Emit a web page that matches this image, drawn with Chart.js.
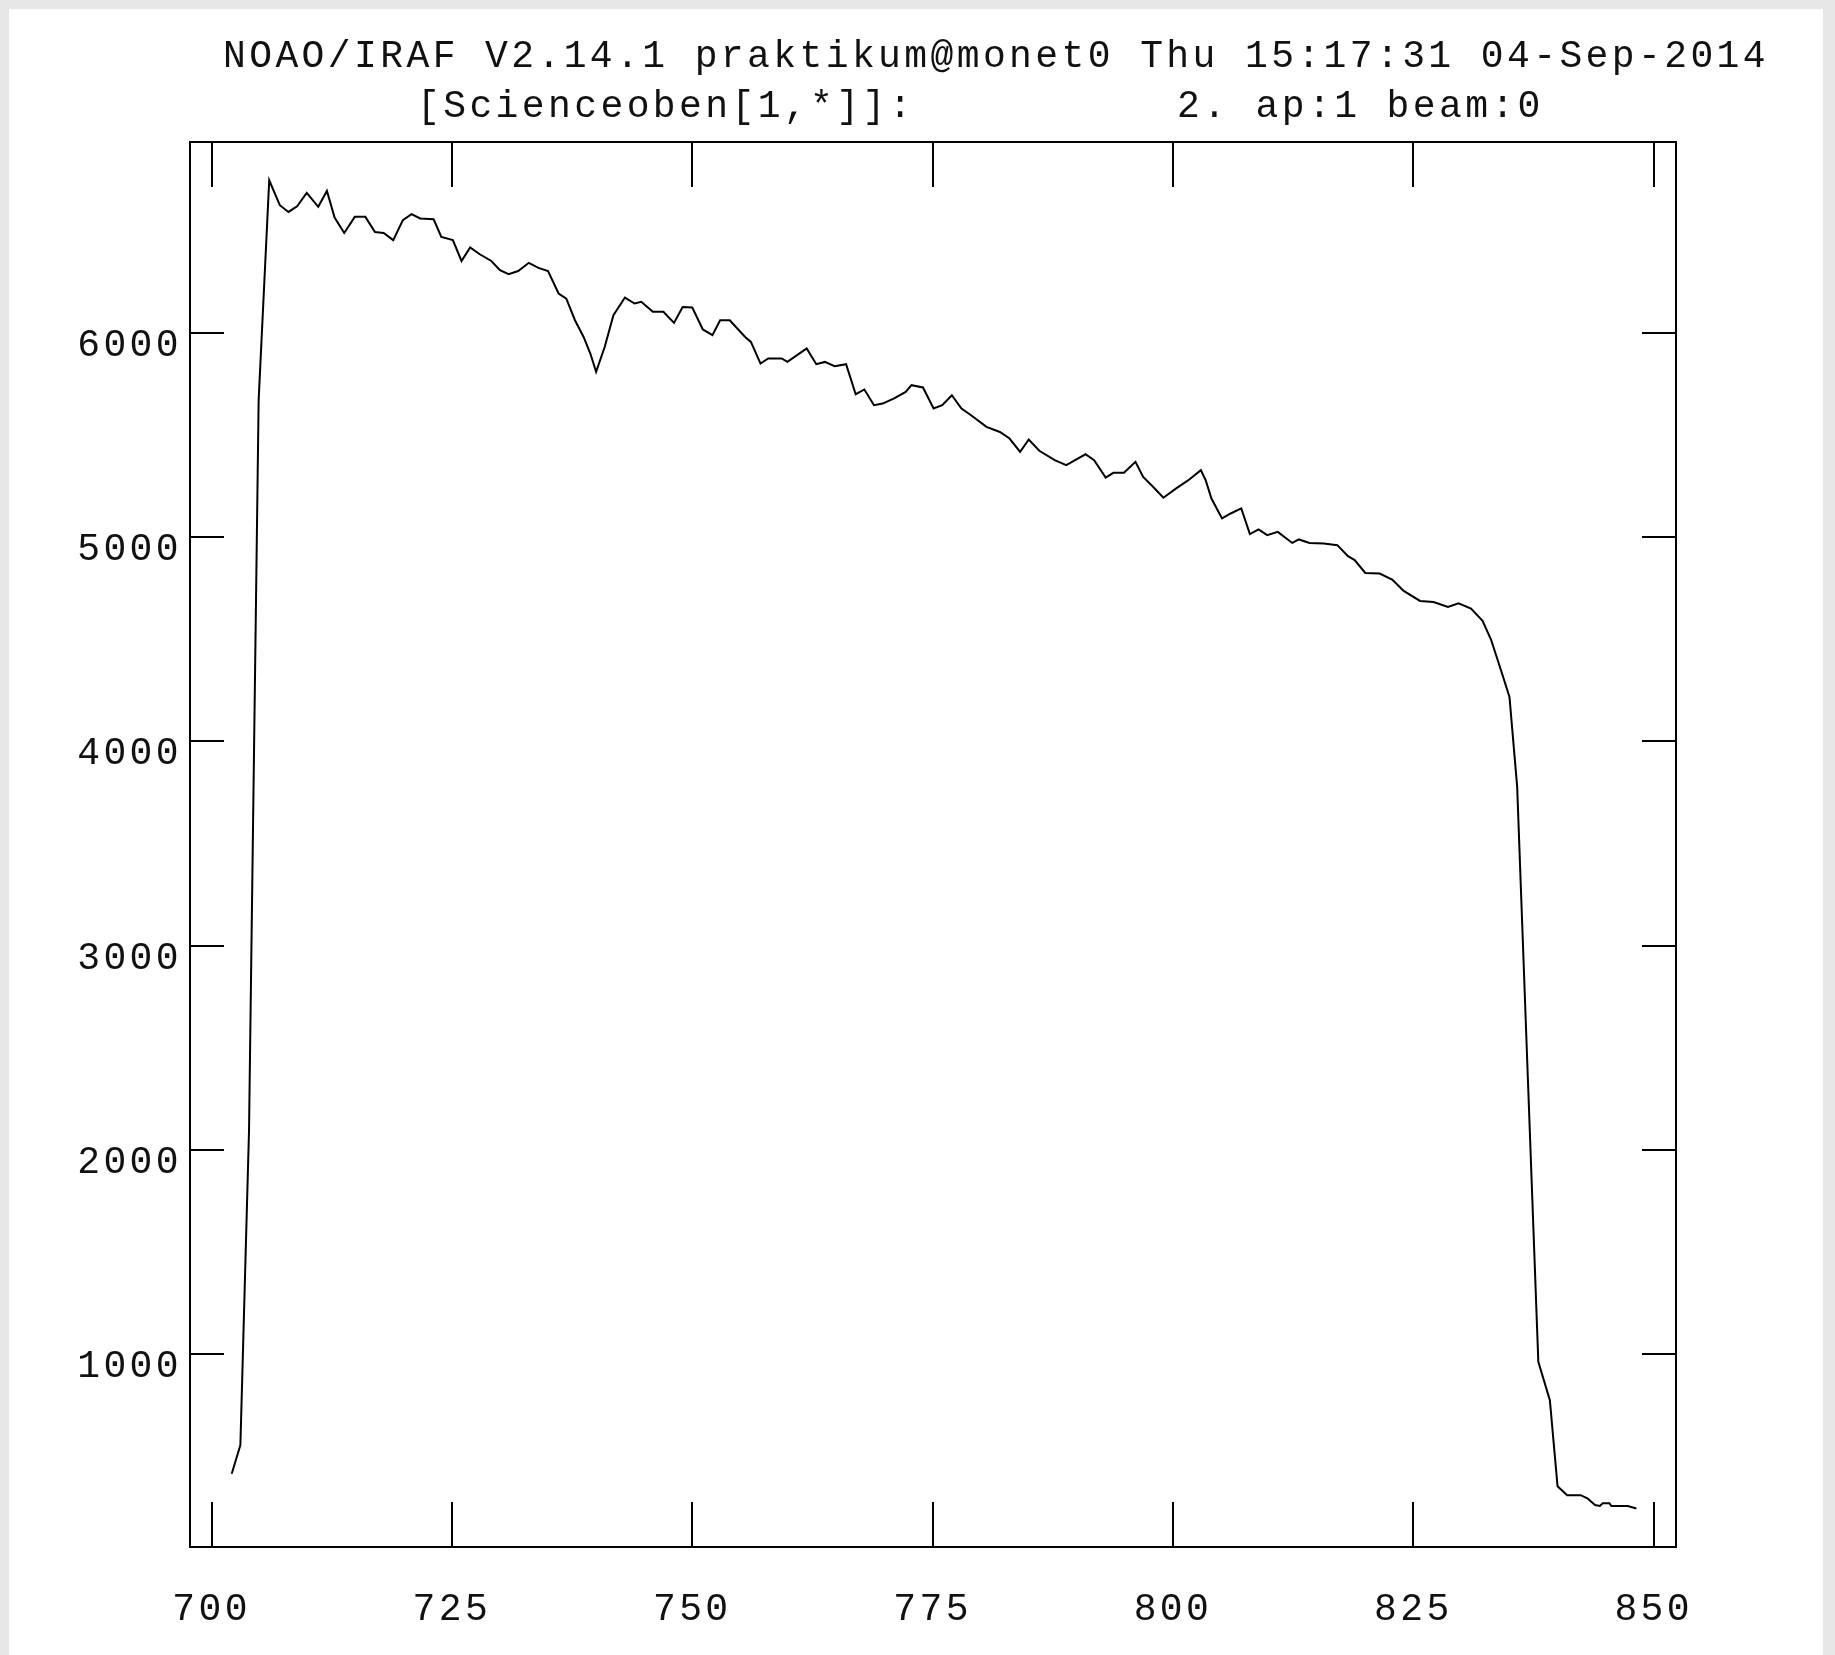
<!DOCTYPE html>
<html><head><meta charset="utf-8">
<script src="https://cdn.jsdelivr.net/npm/chart.js@4"></script>
<style>
html,body{margin:0;padding:0;background:#e6e6e6;}
#paper{position:absolute;left:9px;top:9px;width:1814px;height:1646px;background:#fff;}
#wrap{position:absolute;left:0;top:0;width:1835px;height:1655px;}
canvas{display:block;}
</style></head><body>
<div id="paper"></div>
<div id="wrap"><canvas id="c" width="1835" height="1655"></canvas></div>
<script>
// ---- data ----
const wavelength = [
702.1,703.0,703.9,704.9,706.0,707.1,708.0,708.9,709.9,711.1,712.0,712.8,713.8,714.9,716.0,717.0,717.9,718.9,719.9,720.8,
721.7,723.1,723.9,725.1,726.0,726.9,727.9,729.1,730.0,730.9,731.9,733.0,734.0,735.0,736.1,736.9,737.8,738.7,739.4,740.0,
740.9,741.8,743.0,744.0,744.7,745.9,747.0,748.1,749.0,750.0,751.1,752.1,752.9,753.9,755.5,756.1,757.1,757.9,759.3,759.9,
760.9,761.9,762.9,763.8,764.8,766.0,767.0,767.9,768.9,769.8,771.0,772.2,772.8,774.0,775.1,776.0,777.0,778.0,779.0,780.6,
782.0,783.0,784.1,785.0,786.1,787.7,788.9,790.1,790.9,791.8,793.0,793.8,794.9,796.1,796.9,798.0,799.0,800.3,801.6,802.9,
803.4,804.0,805.1,806.0,807.1,808.0,808.9,809.8,810.9,812.4,813.1,814.2,815.7,817.1,818.2,818.9,820.0,821.5,822.8,824.0,
825.7,827.1,828.6,829.7,831.0,832.2,833.1,834.1,835.0,835.8,836.9,838.0,839.2,840.0,841.0,842.4,843.1,843.9,844.4,844.7,
845.4,845.6,847.3,848.2
];
const flux = [
415,555,2097,5670,6746,6624,6591,6619,6684,6616,6694,6564,6488,6567,6567,6493,6488,6453,6551,6580,
6559,6555,6469,6453,6351,6417,6384,6351,6306,6286,6302,6342,6317,6302,6192,6167,6061,5979,5898,5808,
5931,6086,6172,6143,6151,6102,6102,6048,6126,6123,6016,5988,6061,6061,5979,5955,5849,5874,5874,5857,
5890,5923,5846,5857,5836,5846,5699,5722,5645,5653,5678,5710,5743,5732,5629,5645,5694,5629,5596,5539,
5514,5482,5417,5477,5422,5376,5352,5384,5405,5376,5291,5314,5314,5368,5294,5242,5192,5237,5278,5327,
5278,5188,5091,5115,5140,5014,5037,5009,5025,4971,4988,4971,4968,4960,4906,4887,4824,4821,4792,4736,
4687,4682,4658,4675,4650,4590,4495,4350,4217,3777,2366,963,775,354,310,310,295,262,257,270,
270,257,257,245
];
const xTickValues = [700, 725, 750, 775, 800, 825, 850];
const yTickValues = [1000, 2000, 3000, 4000, 5000, 6000];
const titleLines = [
  "NOAO/IRAF V2.14.1 praktikum@monet0 Thu 15:17:31 04-Sep-2014",
  "[Scienceoben[1,*]]:          2. ap:1 beam:0"
];

// ---- style ----
const FONT_FAMILY = '"Liberation Mono", "DejaVu Sans Mono", monospace';
const FONT_SIZE = 38;
const SPACING = '3.4px';
const INK = '#000';
const TEXT_INK = '#111';

const spacingPlugin = {
  id: 'spacing',
  beforeUpdate(c) { c.ctx.letterSpacing = SPACING; },
  beforeLayout(c) { c.ctx.letterSpacing = SPACING; },
  beforeDraw(c) { c.ctx.letterSpacing = SPACING; }
};
const headerPlugin = {
  id: 'header',
  afterDraw(c) {
    const ctx = c.ctx;
    ctx.save();
    ctx.font = FONT_SIZE + 'px ' + FONT_FAMILY;
    ctx.letterSpacing = SPACING;
    ctx.fillStyle = TEXT_INK;
    ctx.textAlign = 'left';
    ctx.textBaseline = 'alphabetic';
    ctx.fillText(titleLines[0], 223, 67);
    ctx.fillText(titleLines[1], 417, 117);
    ctx.restore();
  }
};

function frameAxis(position, min, max, tickVals, tickLen, size, showLabels, labelOpts) {
  const horizontal = position === 'top' || position === 'bottom';
  return {
    type: 'linear',
    position: position,
    min: min,
    max: max,
    afterBuildTicks: s => { s.ticks = tickVals.map(v => ({ value: v })); },
    afterFit: s => { if (horizontal) s.height = size; else s.width = size; },
    grid: {
      display: true,
      drawOnChartArea: false,
      drawTicks: true,
      color: INK,
      tickColor: INK,
      lineWidth: 2,
      tickWidth: 2,
      tickLength: tickLen
    },
    border: { display: true, color: INK, width: 2 },
    ticks: Object.assign({
      display: showLabels,
      color: TEXT_INK,
      font: { family: FONT_FAMILY, size: FONT_SIZE },
      autoSkip: false,
      maxRotation: 0,
      minRotation: 0,
      callback: v => String(v)
    }, labelOpts || {})
  };
}

const XMIN = 697.76, XMAX = 852.32, YMIN = 56.3, YMAX = 6933.4;

function draw() {
  new Chart(document.getElementById('c'), {
    type: 'line',
    data: {
      datasets: [{
        data: wavelength.map((w, i) => ({ x: w, y: flux[i] })),
        borderColor: INK,
        borderWidth: 2,
        pointRadius: 0,
        tension: 0,
        fill: false,
        xAxisID: 'x',
        yAxisID: 'y'
      }]
    },
    options: {
      responsive: false,
      animation: false,
      devicePixelRatio: 1,
      layout: { padding: 0 },
      plugins: { legend: { display: false }, tooltip: { enabled: false }, title: { display: false } },
      scales: {
        x: frameAxis('bottom', XMIN, XMAX, xTickValues, -45, 108, true, { padding: 85 }),
        x2: frameAxis('top', XMIN, XMAX, xTickValues, -45, 142, false),
        y: frameAxis('left', YMIN, YMAX, yTickValues, -34, 190, true, { padding: 42, labelOffset: 13 }),
        y2: frameAxis('right', YMIN, YMAX, yTickValues, -34, 159, false)
      }
    },
    plugins: [spacingPlugin, headerPlugin]
  });
}
if (document.fonts && document.fonts.load) {
  document.fonts.load(FONT_SIZE + 'px "Liberation Mono"').then(draw, draw);
} else { draw(); }
</script>
</body></html>
